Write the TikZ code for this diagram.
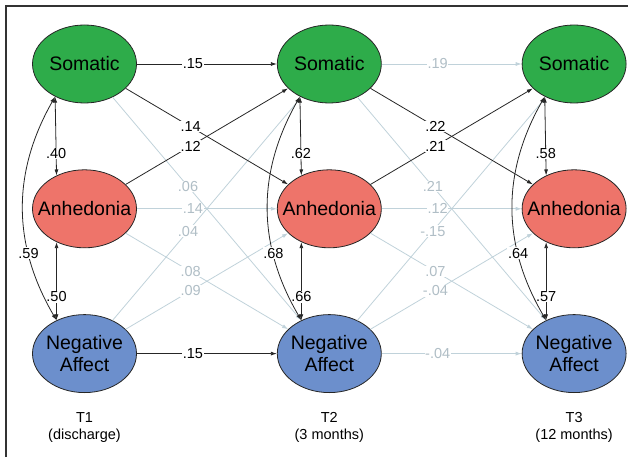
\documentclass[tikz,border=0pt]{standalone}
\usepackage{xcolor}
\usepackage{fontspec}
\setmainfont{Liberation Sans}
\usepackage{tikz}
\usetikzlibrary{positioning,shapes.geometric,arrows.meta}

\definecolor{somagreen}{RGB}{46,172,74}
\definecolor{anhred}{RGB}{238,116,106}
\definecolor{negblue}{RGB}{108,143,204}
\definecolor{pathgray}{RGB}{192,210,218}
\definecolor{labgray}{RGB}{176,190,198}

\begin{document}
\begin{tikzpicture}[x=1pt, y=-1pt]
        % Style cho các ellipse
        \tikzstyle{factor} = [
            ellipse,
            draw=black!85,
            line width=0.8pt,
            minimum width=104pt,
            minimum height=78pt,
            inner xsep=-12pt,
            inner ysep=0pt,
            align=center,
            font=\fontsize{19.5}{22}\selectfont
        ]
        \tikzstyle{soma} = [factor, fill=somagreen]
        \tikzstyle{anh} = [factor, fill=anhred]
        \tikzstyle{neg} = [factor, fill=negblue]

        % Style cho mũi tên và hệ số
        \tikzstyle{strong} = [draw=black!85, line width=0.8pt, -{Latex[length=6pt, width=4pt]}]
        \tikzstyle{weak} = [draw=pathgray, line width=0.8pt, -{Latex[length=6pt, width=4pt]}]
        \tikzstyle{corr} = [draw=black!85, line width=0.8pt, {Latex[length=6pt, width=4pt]}-{Latex[length=6pt, width=4pt]}]
        \tikzstyle{coef} = [fill=white, inner sep=0.6pt, font=\fontsize{14.5}{17}\selectfont]
        \tikzstyle{coefweak} = [coef, text=labgray]
        \tikzstyle{wave} = [align=center, inner sep=0pt, font=\fontsize{14.5}{17}\selectfont]

        \useasboundingbox (0,0) rectangle (628,457);
        \draw[black!80, line width=1.2pt] (6,457) -- (6,6) -- (628,6);

        % Cột T1
        \node[soma] (s1) at (84.5,64) {Somatic};
        \node[anh, below=66pt of s1] (a1) {Anhedonia};
        \node[neg, below=66pt of a1] (n1) {Negative\\Affect};

        % Cột T2
        \node[soma, right=140pt of s1] (s2) {Somatic};
        \node[anh, below=66pt of s2] (a2) {Anhedonia};
        \node[neg, below=66pt of a2] (n2) {Negative\\Affect};

        % Cột T3
        \node[soma, right=140pt of s2] (s3) {Somatic};
        \node[anh, below=66pt of s3] (a3) {Anhedonia};
        \node[neg, below=66pt of a3] (n3) {Negative\\Affect};

        % Nhãn thời điểm
        \node[wave, below=19pt of n1] (t1) {T1\\(discharge)};
        \node[wave, below=19pt of n2] (t2) {T2\\(3 months)};
        \node[wave, below=19pt of n3] (t3) {T3\\(12 months)};

        % Đường mờ T1 -> T2
        \draw[weak] (a1) -- node[coefweak, pos=.4] {.14} (a2);
        \draw[weak] (s1) -- node[coefweak, pos=.4] {.06} (n2);
        \draw[weak] (n1) -- node[coefweak, pos=.4] {.04} (s2);
        \draw[weak] (a1) -- node[coefweak, pos=.4] {.08} (n2);
        \draw[weak] (n1) -- node[coefweak, pos=.4] {.09} (a2);

        % Đường mờ T2 -> T3
        \draw[weak] (s2) -- node[coefweak, pos=.4] {.19} (s3);
        \draw[weak] (a2) -- node[coefweak, pos=.4] {.12} (a3);
        \draw[weak] (n2) -- node[coefweak, pos=.4] {-.04} (n3);
        \draw[weak] (s2) -- node[coefweak, pos=.4] {.21} (n3);
        \draw[weak] (n2) -- node[coefweak, pos=.4] {-.15} (s3);
        \draw[weak] (a2) -- node[coefweak, pos=.4] {.07} (n3);
        \draw[weak] (n2) -- node[coefweak, pos=.4] {-.04} (a3);

        % Đường đậm
        \draw[strong] (s1) -- node[coef, pos=.4] {.15} (s2);
        \draw[strong] (s1) -- node[coef, pos=.4] {.14} (a2);
        \draw[strong] (a1) -- node[coef, pos=.4] {.12} (s2);
        \draw[strong] (n1) -- node[coef, pos=.4] {.15} (n2);
        \draw[strong] (s2) -- node[coef, pos=.4] {.22} (a3);
        \draw[strong] (a2) -- node[coef, pos=.4] {.21} (s3);

        % Tương quan trong cùng thời điểm
        \draw[corr] (s1.228) -- node[coef, pos=.72] {.40} (a1.130);
        \draw[corr] (a1.230) -- node[coef, pos=.7] {.50} (n1.130);
        \draw[corr] (s1.228) to[bend right=30] node[coef, pos=.7] {.59} (n1.130);

        \draw[corr] (s2.228) -- node[coef, pos=.72] {.62} (a2.130);
        \draw[corr] (a2.230) -- node[coef, pos=.7] {.66} (n2.130);
        \draw[corr] (s2.228) to[bend right=30] node[coef, pos=.7] {.68} (n2.130);

        \draw[corr] (s3.228) -- node[coef, pos=.72] {.58} (a3.130);
        \draw[corr] (a3.230) -- node[coef, pos=.7] {.57} (n3.130);
        \draw[corr] (s3.228) to[bend right=30] node[coef, pos=.7] {.64} (n3.130);

    \end{tikzpicture}
\end{document}
